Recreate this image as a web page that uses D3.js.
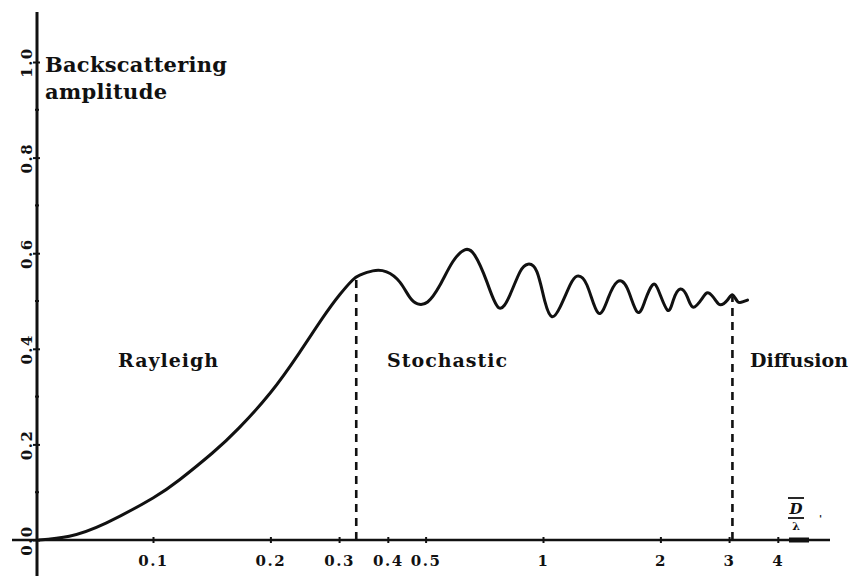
<!DOCTYPE html>
<html>
<head>
<meta charset="utf-8">
<script src="https://cdn.jsdelivr.net/npm/d3@7"></script>
<style>
  html, body { margin: 0; padding: 0; background: #fff; }
  svg { display: block; }
  text { font-family: "DejaVu Serif", "Liberation Serif", serif; font-weight: bold; fill: #111; }
</style>
</head>
<body>
<svg id="chart" width="856" height="576"></svg>
<script>
// ---- data ----
const ratio = [0.051, 0.061, 0.076, 0.1, 0.117, 0.142, 0.166, 0.2, 0.237, 0.272, 0.301, 0.325, 0.339,
  0.366, 0.397, 0.429, 0.455, 0.477, 0.506, 0.544, 0.587, 0.630, 0.668, 0.718, 0.770,
  0.823, 0.873, 0.915, 0.965, 1.012, 1.055, 1.106, 1.173, 1.223, 1.297, 1.385, 1.469, 1.550,
  1.644, 1.745, 1.829, 1.906, 1.975, 2.084, 2.159, 2.250, 2.346, 2.430, 2.563, 2.656, 2.768,
  2.851, 2.972, 3.062, 3.153, 3.248, 3.345];
const amplitude = [0.0, 0.008, 0.036, 0.088, 0.126, 0.182, 0.234, 0.308, 0.391, 0.464, 0.513, 0.544, 0.554,
  0.563, 0.561, 0.540, 0.508, 0.494, 0.498, 0.533, 0.582, 0.607, 0.596, 0.540, 0.486,
  0.513, 0.561, 0.577, 0.561, 0.498, 0.467, 0.487, 0.533, 0.552, 0.533, 0.475, 0.506, 0.540,
  0.527, 0.477, 0.502, 0.533, 0.523, 0.481, 0.502, 0.525, 0.508, 0.487, 0.506, 0.517, 0.502,
  0.492, 0.502, 0.513, 0.499, 0.498, 0.502];

const xTicks = [0.1, 0.2, 0.3, 0.4, 0.5, 1, 2, 3, 4];
const xTickLabels = ["0.1", "0.2", "0.3", "0.4", "0.5", "1", "2", "3", "4"];
const yTicks = [0, 0.2, 0.4, 0.6, 0.8, 1.0];
const yTickLabels = ["0.0", "0.2", "0.4", "0.6", "0.8", "1.0"];
const yMinorTicks = [0.1, 0.3, 0.5, 0.7, 0.9];

const boundaries = [0.332, 3.06];
const boundaryTops = [0.553, 0.51];

const regionNames = ["Rayleigh", "Stochastic", "Diffusion"];
const titleLines = ["Backscattering", "amplitude"];

// ---- layout ----
const svg = d3.select("#chart");
const x = d3.scaleLog().domain([0.1, 1]).range([153, 543]);
const y = d3.scaleLinear().domain([0, 1]).range([540, 62]);
const axisX0 = 37, axisY0 = 540;

// x axis line
svg.append("line").attr("x1", 12).attr("x2", 830).attr("y1", axisY0).attr("y2", axisY0)
  .attr("stroke", "#111").attr("stroke-width", 2.6);
svg.append("line").attr("x1", 789).attr("x2", 809).attr("y1", axisY0).attr("y2", axisY0)
  .attr("stroke", "#111").attr("stroke-width", 5);

// y axis line
svg.append("line").attr("x1", axisX0).attr("x2", axisX0).attr("y1", 12).attr("y2", 576)
  .attr("stroke", "#111").attr("stroke-width", 3);

// x axis ticks & labels
const gx = svg.append("g").attr("transform", `translate(0,${axisY0})`)
  .call(d3.axisBottom(x).tickValues(xTicks).tickSizeInner(3).tickSizeOuter(0).tickPadding(12)
    .tickFormat((d, i) => xTickLabels[i]));
gx.select(".domain").remove();
gx.selectAll(".tick line").attr("y1", -3).attr("y2", 3).attr("stroke", "#111").attr("stroke-width", 2);
gx.selectAll(".tick text").attr("font-size", 15).attr("letter-spacing", 1.5)
  .attr("font-family", "DejaVu Serif, serif").attr("font-weight", "bold").attr("fill", "#111");

// y axis ticks & rotated labels
const gy = svg.append("g").attr("transform", `translate(${axisX0},0)`)
  .call(d3.axisLeft(y).tickValues(yTicks).tickSizeInner(4).tickSizeOuter(0)
    .tickFormat((d, i) => yTickLabels[i]));
gy.select(".domain").remove();
gy.selectAll(".tick line").attr("x1", -4).attr("x2", 3).attr("stroke", "#111").attr("stroke-width", 2);
gy.selectAll(".tick text")
  .attr("x", null).attr("dy", null)
  .attr("transform", "translate(-5,0) rotate(-90)")
  .attr("text-anchor", "middle")
  .attr("font-size", 15).attr("letter-spacing", 1.5)
  .attr("font-family", "DejaVu Serif, serif").attr("font-weight", "bold").attr("fill", "#111");
gy.selectAll(".minor").data(yMinorTicks).enter().append("line")
  .attr("x1", -2).attr("x2", 2).attr("y1", d => y(d)).attr("y2", d => y(d))
  .attr("stroke", "#111").attr("stroke-width", 2);

// curve
const pts = ratio.map((r, i) => [x(r), y(amplitude[i])]);
svg.append("path").attr("d", d3.line().curve(d3.curveNatural)(pts))
  .attr("fill", "none").attr("stroke", "#111").attr("stroke-width", 3)
  .attr("stroke-linejoin", "round").attr("stroke-linecap", "round");

// dashed boundaries
svg.selectAll(".bnd").data(boundaries).enter().append("line")
  .attr("x1", d => x(d)).attr("x2", d => x(d))
  .attr("y1", y(0)).attr("y2", (d, i) => y(boundaryTops[i]))
  .attr("stroke", "#111").attr("stroke-width", 2.6).attr("stroke-dasharray", "8,6");

// title
svg.append("text").attr("x", 45).attr("y", 72).attr("font-size", 21)
  .attr("textLength", 182).attr("lengthAdjust", "spacing").text(titleLines[0]);
svg.append("text").attr("x", 45).attr("y", 99).attr("font-size", 21)
  .attr("textLength", 122).attr("lengthAdjust", "spacing").text(titleLines[1]);

// region labels
const regionLeft = [118, 387, 750];
const regionWidth = [100, 120, 98];
svg.selectAll(".region").data(regionNames).enter().append("text")
  .attr("x", (d, i) => regionLeft[i]).attr("y", 367).attr("font-size", 19)
  .attr("textLength", (d, i) => regionWidth[i]).attr("lengthAdjust", "spacing")
  .text(d => d);

// D/λ axis label
svg.append("line").attr("x1", 788).attr("x2", 804).attr("y1", 498).attr("y2", 498)
  .attr("stroke", "#111").attr("stroke-width", 1.8);
svg.append("text").attr("x", 796).attr("y", 514).attr("text-anchor", "middle")
  .attr("font-size", 15).attr("font-style", "italic").text("D");
svg.append("line").attr("x1", 788).attr("x2", 804).attr("y1", 518).attr("y2", 518)
  .attr("stroke", "#111").attr("stroke-width", 1.8);
svg.append("text").attr("x", 796).attr("y", 530).attr("text-anchor", "middle")
  .attr("font-size", 11).text("λ");
svg.append("text").attr("x", 819).attr("y", 522).attr("font-size", 10).text("'");
</script>
</body>
</html>
